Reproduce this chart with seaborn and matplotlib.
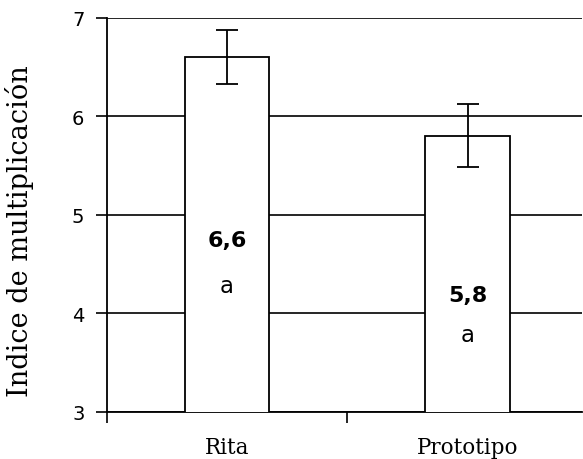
import matplotlib
matplotlib.use("Agg")
import matplotlib.pyplot as plt
import seaborn as sns
import pandas as pd

# data
variedades = ["Rita", "Prototipo"]
medias = [6.6, 5.8]
err_bajo = [6.33, 5.49]
err_alto = [6.88, 6.13]
etiquetas = ["6,6", "5,8"]
letras = ["a", "a"]
pos_etiqueta = [4.75, 4.19]
pos_letra = [4.28, 3.79]

df = pd.DataFrame({"variedad": variedades, "indice": medias})

sns.set_style("white")
plt.rcParams["text.color"] = "black"
plt.rcParams["axes.labelcolor"] = "black"
plt.rcParams["xtick.color"] = "black"
plt.rcParams["ytick.color"] = "black"

fig = plt.figure(figsize=(5.83, 4.6), dpi=100)
ax = fig.add_axes([0.183, 0.1022, 0.815, 0.8565])

bar = sns.barplot(data=df, x="variedad", y="indice", color="white",
                  edgecolor="black", linewidth=1.3, width=0.35,
                  errorbar=None, ax=ax, zorder=3)

yerr = [[m - lo for m, lo in zip(medias, err_bajo)],
        [hi - m for m, hi in zip(medias, err_alto)]]
ax.errorbar(range(len(variedades)), medias, yerr=yerr, fmt="none",
            ecolor="black", elinewidth=1.3, capsize=8, capthick=1.3, zorder=4)

# value labels inside the bars
for i, (t, l) in enumerate(zip(etiquetas, letras)):
    ax.text(i, pos_etiqueta[i], t, ha="center", va="center",
            fontsize=16, fontweight="bold", color="black", zorder=5)
    ax.text(i, pos_letra[i], l, ha="center", va="center",
            fontsize=16.5, color="black", zorder=5)

ax.set_ylim(3, 7)
ax.set_xlim(-0.5, 1.475)
ax.set_yticks([3, 4, 5, 6, 7])
ax.set_yticklabels(["3", "4", "5", "6", "7"], fontsize=14)
ax.grid(axis="y", color="black", linewidth=1.2)
ax.set_axisbelow(True)

# major ticks between categories, labels on minor ticks under the bars
ax.set_xticks([-0.5, 0.5])
ax.set_xticklabels(["", ""])
ax.set_xticks([0, 1], minor=True)
ax.set_xticklabels(variedades, minor=True, fontsize=15.5, family="DejaVu Serif")
ax.tick_params(axis="x", which="minor", length=0, pad=17, bottom=True)
ax.tick_params(axis="x", which="major", length=8, width=1.2, bottom=True)
ax.tick_params(axis="y", length=8, width=1.2, pad=8, left=True)

ax.set_xlabel("")
ax.set_ylabel("Indice de multiplicación", fontsize=19.5, family="DejaVu Serif")
ax.yaxis.set_label_coords(-0.152, 0.462)

for s in ["top", "right"]:
    ax.spines[s].set_visible(False)
for s in ["left", "bottom"]:
    ax.spines[s].set_color("black")
    ax.spines[s].set_linewidth(1.3)

fig.savefig("out.png", dpi=100)
